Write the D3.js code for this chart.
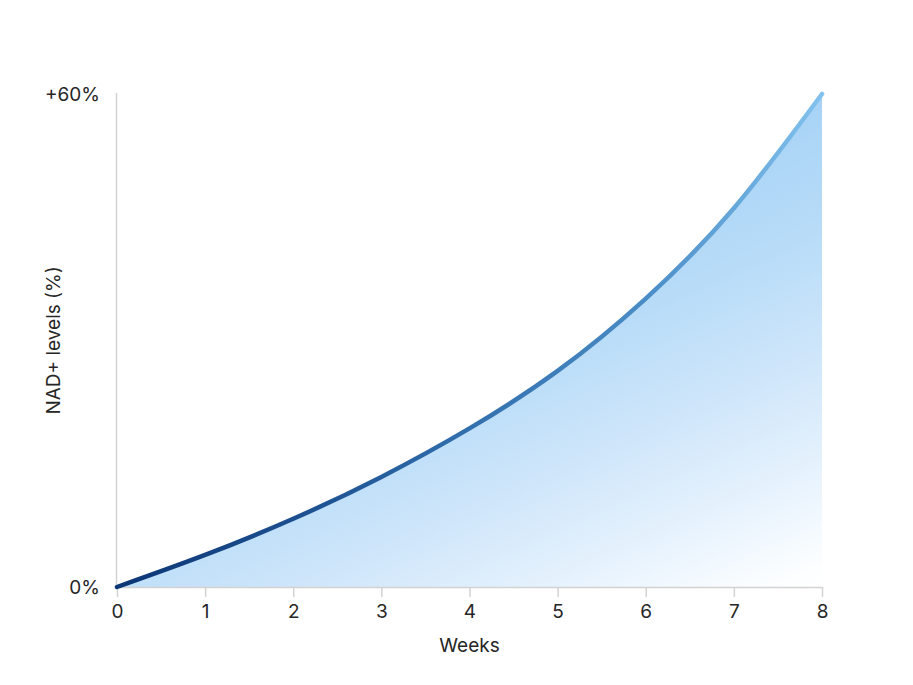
<!DOCTYPE html>
<html>
<head>
<meta charset="utf-8">
<script src="https://cdn.jsdelivr.net/npm/d3@7"></script>
<style>
  body { margin: 0; background: #fff; }
  text { font-family: Inter, "Noto Sans", sans-serif; fill: #262626; }
</style>
</head>
<body>
<script>
// chart size
var width = 913;
var height = 685;

// data
var weeks = [0, 1, 2, 3, 4, 5, 6, 7, 8];
var nadLevels = [0, 3.9, 8.3, 13.4, 19.3, 26.3, 35.1, 46.1, 60];
var yTickValues = [0, 60];
var yTickLabels = ["0%", "+60%"];

var margin = { top: 94, right: 91, bottom: 98, left: 117 };

var svg = d3.select("body")
    .append("svg")
    .attr("width", width)
    .attr("height", height);

var x = d3.scaleLinear()
    .domain([0, 8])
    .range([margin.left, width - margin.right]);

var y = d3.scaleLinear()
    .domain([0, 60])
    .range([height - margin.bottom, margin.top]);

var points = weeks.map(function(w, i) { return { w: w, v: nadLevels[i] }; });

var defs = svg.append("defs");

// area fill: blue top-left fading to white bottom-right
var x0 = x(0), yTop = y(60), span = (x(8) - x(0)) * 0.45 + (y(0) - y(60));
var k = span / 1.2025;
var areaGrad = defs.append("linearGradient")
    .attr("id", "areaGrad")
    .attr("gradientUnits", "userSpaceOnUse")
    .attr("x1", x0).attr("y1", yTop)
    .attr("x2", x0 + 0.45 * k).attr("y2", yTop + k);
[[0, "#98cbf4"], [0.4, "#a8d3f6"], [0.56, "#b8dcf8"], [0.7, "#cde5fa"], [0.85, "#e6f2fd"], [0.96, "#fafdff"], [1, "#ffffff"]]
  .forEach(function(s) {
    areaGrad.append("stop").attr("offset", s[0]).attr("stop-color", s[1]);
  });

// line colour: navy to light blue left to right
var lineGrad = defs.append("linearGradient")
    .attr("id", "lineGrad")
    .attr("gradientUnits", "userSpaceOnUse")
    .attr("x1", x(0)).attr("y1", 0)
    .attr("x2", x(8)).attr("y2", 0);
[[0, "#0c3675"], [0.3, "#1f5494"], [0.5, "#3270ad"], [0.75, "#4a8cc6"], [1, "#82c2ee"]]
  .forEach(function(s) {
    lineGrad.append("stop").attr("offset", s[0]).attr("stop-color", s[1]);
  });

var area = d3.area()
    .x(function(d) { return x(d.w); })
    .y0(y(0))
    .y1(function(d) { return y(d.v); })
    .curve(d3.curveNatural);

var line = d3.line()
    .x(function(d) { return x(d.w); })
    .y(function(d) { return y(d.v); })
    .curve(d3.curveNatural);

svg.append("path")
    .datum(points)
    .attr("d", area)
    .attr("fill", "url(#areaGrad)");

// y axis line (no ticks)
svg.append("line")
    .attr("x1", x(0) - 0.5).attr("x2", x(0) - 0.5)
    .attr("y1", y(60) - 1).attr("y2", y(0))
    .attr("stroke", "#d2d2d2")
    .attr("stroke-width", 1.5);

// x axis
var xAxis = svg.append("g")
    .attr("transform", "translate(0," + y(0) + ")")
    .call(d3.axisBottom(x).tickValues(weeks).tickSize(10).tickSizeOuter(0).tickPadding(8));
xAxis.select(".domain").attr("stroke", "#d2d2d2").attr("stroke-width", 1.5);
xAxis.selectAll(".tick line").attr("stroke", "#d2d2d2").attr("stroke-width", 1.5);
xAxis.selectAll(".tick text")
    .style("font-family", "Inter, 'Noto Sans', sans-serif")
    .style("font-size", "19px")
    .attr("fill", "#262626");

svg.append("path")
    .datum(points)
    .attr("d", line)
    .attr("fill", "none")
    .attr("stroke", "url(#lineGrad)")
    .attr("stroke-width", 4.5)
    .attr("stroke-linecap", "round");

// y tick labels
svg.selectAll(".ylab")
    .data(yTickValues)
    .enter().append("text")
    .attr("class", "ylab")
    .attr("x", x(0) - 17)
    .attr("y", function(d) { return y(d); })
    .attr("dy", "0.35em")
    .attr("text-anchor", "end")
    .style("font-size", "19px")
    .text(function(d, i) { return yTickLabels[i]; });

// axis titles
svg.append("text")
    .attr("x", x(4))
    .attr("y", 652)
    .attr("text-anchor", "middle")
    .style("font-size", "19px")
    .text("Weeks");

svg.append("text")
    .attr("transform", "translate(60," + ((y(0) + y(60)) / 2) + ") rotate(-90)")
    .attr("text-anchor", "middle")
    .style("font-size", "19px")
    .text("NAD+ levels (%)");
</script>
</body>
</html>
